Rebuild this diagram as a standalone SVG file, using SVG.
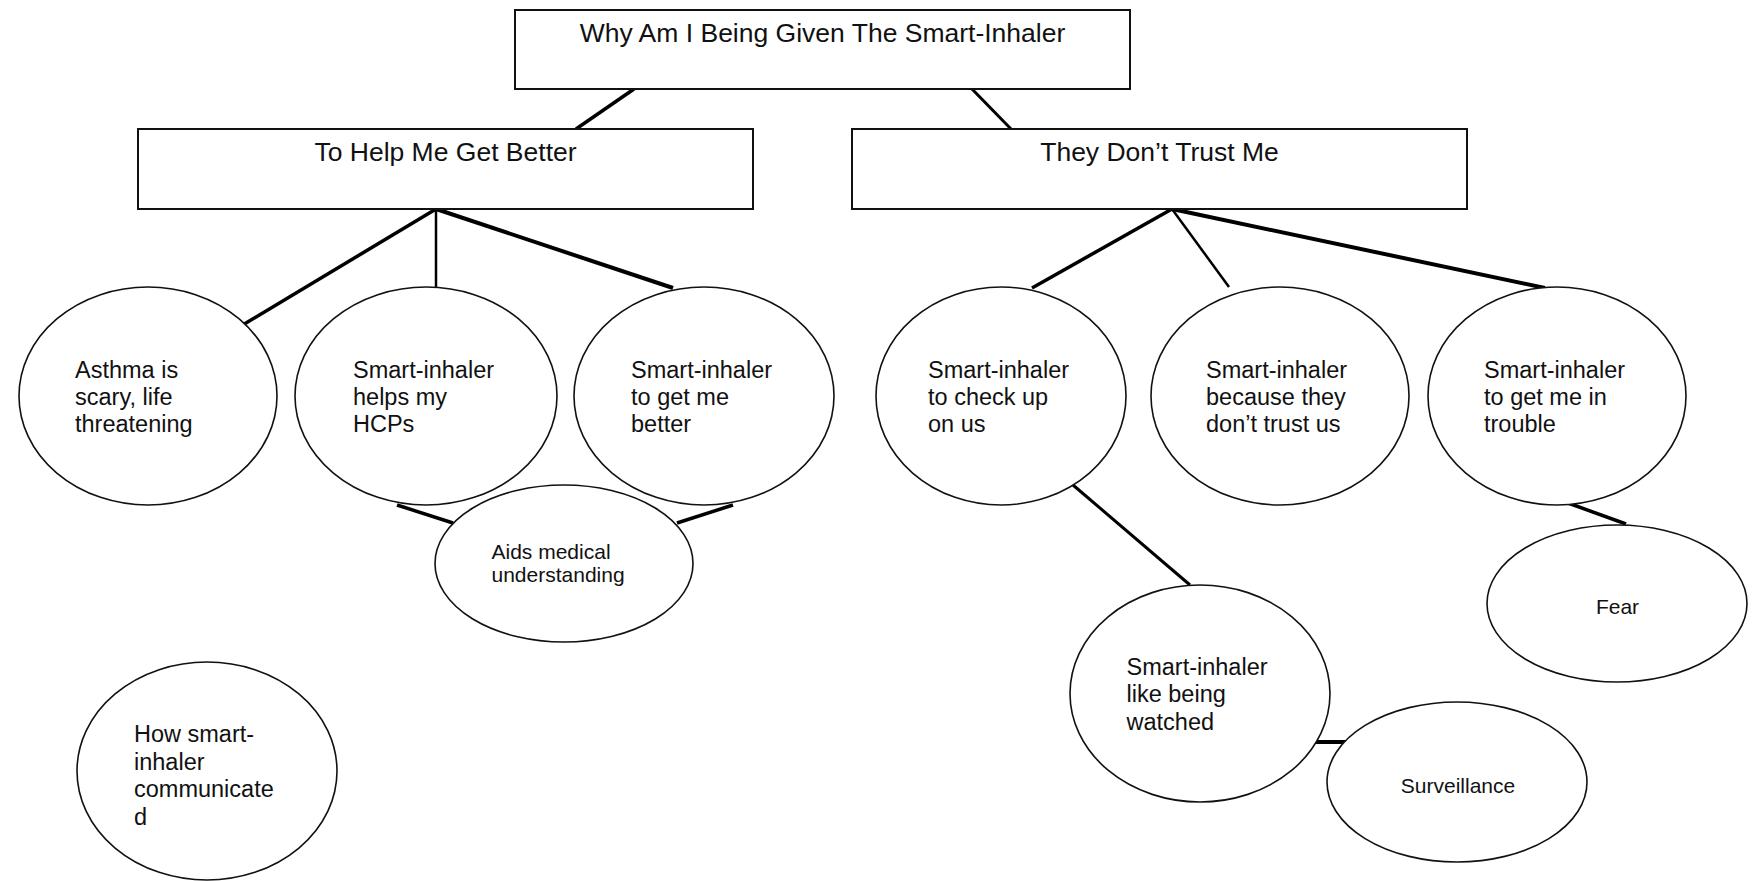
<svg xmlns="http://www.w3.org/2000/svg" width="1754" height="881" viewBox="0 0 1754 881">
<style>
.box{fill:#fff;stroke:#111;stroke-width:2}
.ell{fill:#fff;stroke:#111;stroke-width:1.6}
.c{stroke:#000;stroke-linecap:butt;fill:none}
.t{font-family:"Liberation Sans",Arial,sans-serif;fill:#111}
.bt{font-size:26.5px;text-anchor:middle}
.et{font-size:23.5px}
.st{font-size:21px}
</style>
<rect width="1754" height="881" fill="#fff"/>
<g id="connectors">
<line class="c" x1="634" y1="89" x2="576" y2="129" stroke-width="3.5"/>
<line class="c" x1="972" y1="89" x2="1011" y2="129" stroke-width="3"/>
<line class="c" x1="436" y1="209" x2="241" y2="326" stroke-width="3.5"/>
<line class="c" x1="436" y1="209" x2="436" y2="287" stroke-width="2.5"/>
<line class="c" x1="436" y1="209" x2="673" y2="288" stroke-width="4"/>
<line class="c" x1="1172" y1="209" x2="1032" y2="288" stroke-width="3.5"/>
<line class="c" x1="1172" y1="209" x2="1229" y2="287" stroke-width="2.5"/>
<line class="c" x1="1172" y1="209" x2="1545" y2="288" stroke-width="4"/>
<line class="c" x1="397" y1="505" x2="453" y2="523" stroke-width="3.5"/>
<line class="c" x1="733" y1="505" x2="677" y2="523" stroke-width="3.5"/>
<line class="c" x1="1073" y1="485" x2="1190" y2="585" stroke-width="3"/>
<line class="c" x1="1568" y1="503" x2="1626" y2="524" stroke-width="3.5"/>
<line class="c" x1="1310" y1="742" x2="1347" y2="742" stroke-width="4"/>
</g>
<g id="root">
<rect class="box" x="515" y="10" width="615" height="79"/>
<text class="t bt" x="822.5" y="42">Why Am I Being Given The Smart-Inhaler</text>
</g>
<g id="help">
<rect class="box" x="138" y="129" width="615" height="80"/>
<text class="t bt" x="445.5" y="161">To Help Me Get Better</text>
</g>
<g id="trust">
<rect class="box" x="852" y="129" width="615" height="80"/>
<text class="t bt" x="1159.5" y="161">They Don’t Trust Me</text>
</g>
<g id="asthma">
<ellipse class="ell" cx="148" cy="396" rx="129" ry="109"/>
<text class="t et" x="75" y="378">Asthma is<tspan x="75" y="405">scary, life</tspan><tspan x="75" y="432">threatening</tspan></text>
</g>
<g id="hcps">
<ellipse class="ell" cx="426" cy="396" rx="131" ry="109"/>
<text class="t et" x="353" y="378">Smart-inhaler<tspan x="353" y="405">helps my</tspan><tspan x="353" y="432">HCPs</tspan></text>
</g>
<g id="better">
<ellipse class="ell" cx="704" cy="396" rx="130" ry="109"/>
<text class="t et" x="631" y="378">Smart-inhaler<tspan x="631" y="405">to get me</tspan><tspan x="631" y="432">better</tspan></text>
</g>
<g id="checkup">
<ellipse class="ell" cx="1001" cy="396" rx="125" ry="109"/>
<text class="t et" x="928" y="378">Smart-inhaler<tspan x="928" y="405">to check up</tspan><tspan x="928" y="432">on us</tspan></text>
</g>
<g id="because">
<ellipse class="ell" cx="1280" cy="396" rx="129" ry="109"/>
<text class="t et" x="1206" y="378">Smart-inhaler<tspan x="1206" y="405">because they</tspan><tspan x="1206" y="432">don’t trust us</tspan></text>
</g>
<g id="trouble">
<ellipse class="ell" cx="1557" cy="396" rx="129" ry="109"/>
<text class="t et" x="1484" y="378">Smart-inhaler<tspan x="1484" y="405">to get me in</tspan><tspan x="1484" y="432">trouble</tspan></text>
</g>
<g id="aids">
<ellipse class="ell" cx="564" cy="563.5" rx="129" ry="78.5"/>
<text class="t st" x="491.5" y="559">Aids medical<tspan x="491.5" y="582">understanding</tspan></text>
</g>
<g id="howcomm">
<ellipse class="ell" cx="207" cy="771" rx="130" ry="109"/>
<text class="t et" x="134" y="742">How smart-<tspan x="134" y="769.5">inhaler</tspan><tspan x="134" y="797">communicate</tspan><tspan x="134" y="824.5">d</tspan></text>
</g>
<g id="watched">
<ellipse class="ell" cx="1200" cy="693.5" rx="130" ry="108.5"/>
<text class="t et" x="1126.5" y="675">Smart-inhaler<tspan x="1126.5" y="702">like being</tspan><tspan x="1126.5" y="729.5">watched</tspan></text>
</g>
<g id="surveillance">
<ellipse class="ell" cx="1457" cy="782" rx="130" ry="80"/>
<text class="t st" x="1458" y="793" text-anchor="middle">Surveillance</text>
</g>
<g id="fear">
<ellipse class="ell" cx="1617" cy="603.5" rx="130" ry="78.5"/>
<text class="t st" x="1617.5" y="614" text-anchor="middle">Fear</text>
</g>
</svg>
